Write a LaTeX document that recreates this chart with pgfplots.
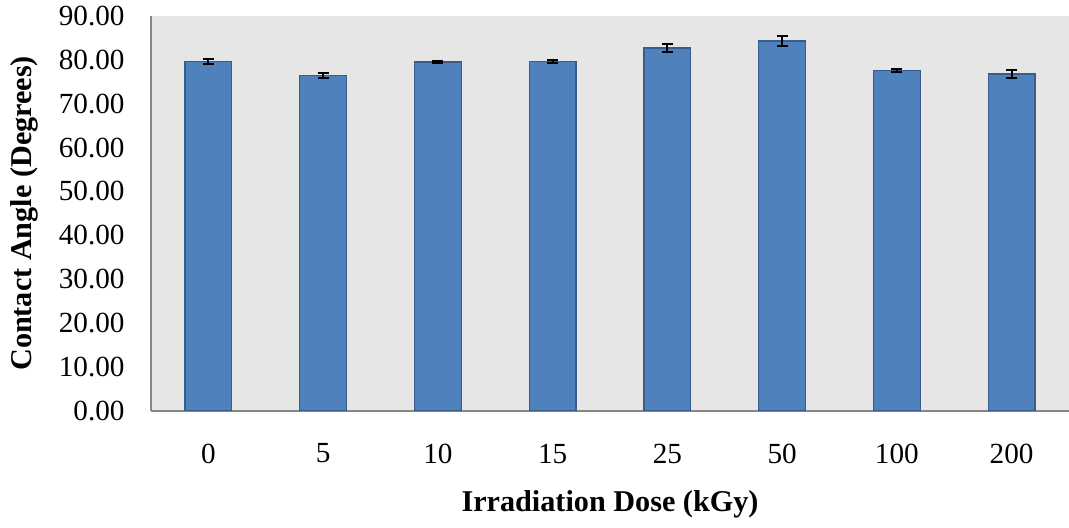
\documentclass[border=0pt]{standalone}
\usepackage{pgfplots}
\pgfplotsset{compat=1.18}
\usepackage{fontspec}
\setmainfont{Liberation Serif}
\definecolor{barfill}{HTML}{4F81BD}
\definecolor{barline}{HTML}{385D8A}
\definecolor{plotbg}{HTML}{E6E6E6}
\definecolor{axgray}{HTML}{868686}
\begin{document}
\begin{tikzpicture}
\useasboundingbox (0,0) rectangle (534.5pt,263.5pt);
\begin{axis}[
  at={(75.5pt,58.15pt)}, anchor=south west,
  scale only axis, width=459pt, height=197.35pt,
  xmin=-0.5, xmax=7.5, ymin=0, ymax=90,
  xtick={0,1,2,3,4,5,6,7},
  xticklabels={0,5,10,15,25,50,100,200},
  ytick={0,10,20,30,40,50,60,70,80,90},
  major tick length=0pt,
  axis lines*=left,
  axis line style={draw=axgray, line width=1pt, -},
  axis background/.style={fill=plotbg},
  /pgf/number format/assume math mode=true,
  yticklabel={\pgfmathprintnumber[fixed,fixed zerofill,precision=2]{\tick}},
  tick label style={font=\fontsize{14.6}{17}\selectfont},
  yticklabel style={xshift=-9.7pt},
  xticklabel style={yshift=-13pt},
  every axis y label/.style={at={(axis description cs:-0.1383,0.5)}, rotate=90, anchor=center, font=\fontsize{15.1}{18}\selectfont\bfseries},
  every axis x label/.style={at={(axis description cs:0.5,-0.238)}, anchor=center, font=\fontsize{15.1}{18}\selectfont\bfseries},
  ylabel={Contact Angle (Degrees)},
  xlabel={Irradiation Dose (kGy)},
  clip=false,
]
\addplot[ybar, bar width=23.3pt, fill=barfill, draw=barline, line width=0.6pt,
  error bars/.cd, y dir=both, y explicit,
  error bar style={black, line width=1pt},
  error mark options={black, rotate=90, mark size=2.8pt, line width=1pt}]
  coordinates {
  (0,79.57) +- (0,0.57)
  (1,76.47) +- (0,0.57)
  (2,79.50) +- (0,0.26)
  (3,79.66) +- (0,0.42)
  (4,82.70) +- (0,0.88)
  (5,84.30) +- (0,1.03)
  (6,77.60) +- (0,0.42)
  (7,76.80) +- (0,0.88)
  };
\end{axis}
\end{tikzpicture}
\end{document}
